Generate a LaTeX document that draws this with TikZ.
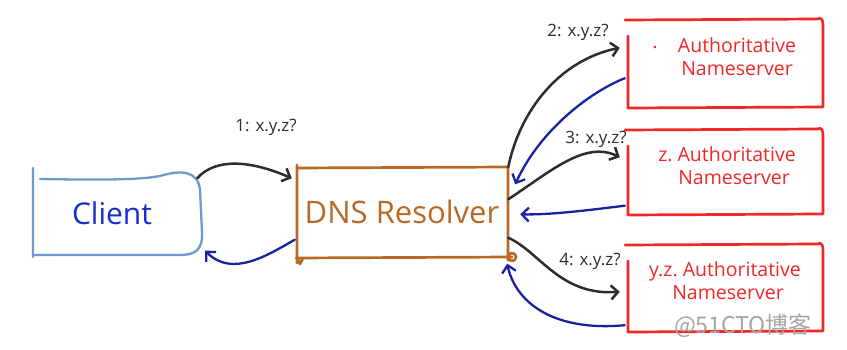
\documentclass[tikz,border=0pt]{standalone}
\usepackage{fontspec}
\setmainfont{Open Sans}
\newfontfamily\cjkfont{Noto Sans CJK SC}
\usetikzlibrary{arrows.meta}
\definecolor{clientline}{RGB}{110,155,205}
\definecolor{clienttext}{RGB}{25,45,205}
\definecolor{resolver}{RGB}{185,105,35}
\definecolor{nsred}{RGB}{240,40,40}
\definecolor{replyblue}{RGB}{25,35,160}
\definecolor{queryblack}{RGB}{45,45,45}
\tikzset{
  query/.style={queryblack, line width=2.5pt, line cap=round,
    -{Straight Barb[length=7pt,width=14pt,line width=2.5pt]}},
  reply/.style={replyblue, line width=2.3pt, line cap=round,
    -{Straight Barb[length=7pt,width=14pt,line width=2.3pt]}},
  qlabel/.style={queryblack, font=\fontsize{17}{19}\selectfont, inner sep=0pt},
  nstext/.style={nsred, font=\fontsize{19.5}{23}\selectfont, align=center, inner sep=0pt},
  redline/.style={nsred, line width=2.7pt, line cap=round, line join=round},
}
\begin{document}
\begin{tikzpicture}[x=1pt, y=-1pt]
\useasboundingbox[fill=white] (0,0) rectangle (847,350);

% --- client ---------------------------------------------------------------
\node[minimum width=168pt, minimum height=85pt, inner sep=0pt] (client) at (117,213) {};
\draw[clientline, line width=2.3pt, line cap=round, line join=round]
  (33,168) -- (33,257)
  (40,179) .. controls (100,180) and (140,180) .. (160,176)
           .. controls (180,170) and (198,170) .. (200,190)
           -- (202,232) .. controls (203,250) and (195,255) .. (180,255)
           -- (34,255);
\node[clienttext, font=\fontsize{30}{34}\selectfont] at ([xshift=-5pt]client.center) {Client};

% --- resolver --------------------------------------------------------------
\node[minimum width=212pt, minimum height=95pt, inner sep=0pt] (dns) at (402,212) {};
\draw[resolver, line width=2.7pt, line cap=round, line join=round]
  (297,165) -- (297,263)
  (297,168) -- (508,167) -- (508,260)
  (296,258) -- (512,257)
  (512,257) circle[radius=4pt]
  (297,258) -- (300,264) -- (303,258);
\node[resolver, font=\fontsize{31}{35}\selectfont] at (dns.center) {DNS Resolver};

% --- authoritative nameservers -------------------------------------------
\node[minimum width=200pt, minimum height=90pt, inner sep=0pt] (ns1) at (725,63) {};
\node[minimum width=200pt, minimum height=87pt, inner sep=0pt] (ns2) at (725,171) {};
\node[minimum width=200pt, minimum height=90pt, inner sep=0pt] (ns3) at (725,288) {};

\draw[redline]
  (625,20) -- (817,19) .. controls (822,17) and (823,20) .. (823,26) -- (823,107)
  (628,36) -- (628,108) -- (823,107)
  (625,130) -- (817,129) .. controls (822,127) and (823,130) .. (823,136) -- (823,214)
  (628,146) -- (628,215) -- (823,214)
  (625,245) -- (817,244) .. controls (822,242) and (823,245) .. (823,251) -- (823,331)
  (628,261) -- (628,332) -- (823,331);

\node[nstext] at ([xshift=12pt, yshift=6pt]ns1.center) {Authoritative\\Nameserver};
\node[nsred, font=\fontsize{20}{22}\selectfont, inner sep=0pt] at (655,47) {.};
\node[nstext] at ([xshift=2pt, yshift=5pt]ns2.center) {z.\ Authoritative\\\hspace*{14pt}Nameserver};
\node[nstext] at ([xshift=0pt, yshift=7pt]ns3.center) {y.z.\ Authoritative\\\hspace*{6pt}Nameserver};

% --- queries and replies -------------------------------------------------
\draw[query] ([shift={(-4pt,-8pt)}]client.north east)
  .. controls (215,158) and (250,160) .. ([shift={(-4pt,-14pt)}]dns.north west);
\draw[reply] ([shift={(-1pt,20pt)}]dns.south west)
  .. controls (268,255) and (232,278) .. ([shift={(4pt,5pt)}]client.south east);

\draw[query] ([yshift=-3pt]dns.north east)
  .. controls (520,110) and (560,60) .. ([shift={(-5pt,-30pt)}]ns1.north west);
\draw[reply] ([yshift=30pt]ns1.south west)
  .. controls (590,92) and (540,130) .. ([shift={(7pt,-20pt)}]dns.north east);

\draw[query] ([yshift=-35pt]dns.north east)
  .. controls (550,172) and (585,140) .. ([shift={(-5pt,-30pt)}]ns2.north west);
\draw[reply] ([yshift=9pt]ns2.south west)
  .. controls (590,210) and (550,215) .. ([shift={(12pt,-50pt)}]dns.north east);

\draw[query] ([yshift=22pt]dns.south east)
  .. controls (540,252) and (560,296) .. ([shift={(-5pt,-49pt)}]ns3.north west);
\draw[reply] ([yshift=8pt]ns3.south west)
  .. controls (550,332) and (515,300) .. ([xshift=-1pt, yshift=-4pt]dns.south east);

\node[qlabel] (l1) at (266,127) {1: x.y.z?};
\node[qlabel] (l2) at (578,32) {2: x.y.z?};
\node[qlabel] (l3) at (596,139) {3: x.y.z?};
\node[qlabel] (l4) at (590,261) {4: x.y.z?};

% --- watermark -------------------------------------------------------------
\node[gray!70, font=\cjkfont\fontsize{23}{26}\selectfont, inner sep=0pt] (wm) at (743,326) {@51CTO博客};
\end{tikzpicture}
\end{document}
